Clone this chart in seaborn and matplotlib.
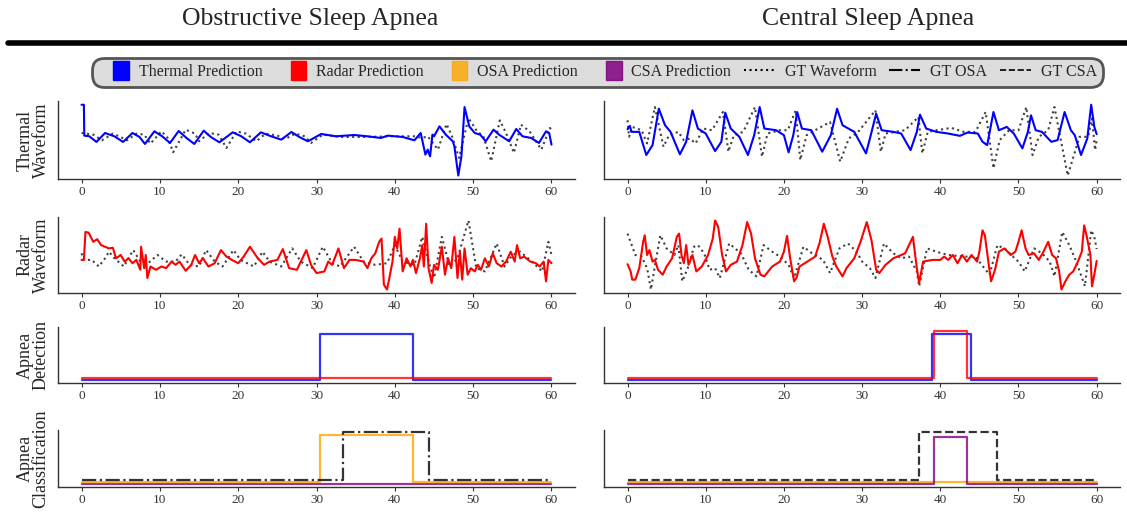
import numpy as np
import matplotlib
matplotlib.use('Agg')
import matplotlib.pyplot as plt
import seaborn as sns
from matplotlib.patches import Patch, Rectangle
from matplotlib.lines import Line2D
from matplotlib.legend_handler import HandlerPatch

# ---------------------------------------------------------------
# data (time in s, waveform in arbitrary units)
# ---------------------------------------------------------------

# OSA thermal waveform
osa_th_t = [0, 0.3, 0.35, 1.0, 1.9, 3.0, 4.2, 5.3, 6.5, 7.4, 8.1, 9.3, 10.3, 11.3, 12.4, 13.4,
            14.4, 15.6, 16.5, 17.6, 19.3, 20.4, 21.5, 22.9, 24.2, 25.5, 26.8, 27.8, 28.9, 30.6,
            32.5, 34.8, 36.5, 38.2, 39.1, 41.0, 42.5, 43.3, 43.9, 44.2, 44.4, 44.5, 44.8, 45.0,
            45.7, 46.5, 47.4, 47.6, 48.1, 48.5, 48.9, 49.5, 50.2, 50.9, 51.6, 52.6, 53.3, 54.6,
            55.5, 56.3, 57.4, 58.4, 59.3, 59.7, 60]
osa_th_v = [225, 225, 132, 130, 113, 140, 130, 113, 140, 128, 107, 145, 130, 110, 146, 125,
            107, 147, 128, 112, 142, 130, 112, 142, 130, 120, 143, 128, 115, 137,
            130, 134, 130, 125, 132, 128, 118, 140, 75, 90, 75, 70, 135, 130,
            160, 135, 115, 100, 12, 70, 218, 160, 140, 135, 115, 150, 135, 115,
            152, 130, 125, 110, 145, 140, 105]
osa_th_gt_t = [0, 1.5, 2.6, 4.0, 4.8, 5.8, 7.0, 8.0, 8.8, 10.2, 11.0, 11.7, 13.3, 14.5, 15.0,
               16.3, 17.5, 18.5, 19.8, 21.0, 22.3, 23.5, 25.0, 26.0, 27.3, 28.5, 29.3, 30.8,
               33, 36, 39.5, 42.5, 43.5, 44.2, 45.5, 46.6, 47.3, 48.2, 49.4, 50.5, 51.3, 52.3,
               53.4, 54.2, 55.2, 56.1, 57.2, 58.7, 59.8, 60]
osa_th_gt_v = [140, 135, 118, 138, 130, 118, 138, 135, 108, 145, 125, 82, 150, 138, 115,
               140, 135, 95, 145, 138, 115, 138, 132, 122, 138, 130, 110, 135,
               128, 128, 130, 130, 125, 130, 90, 167, 130, 65, 185, 145, 130, 55,
               178, 140, 80, 165, 145, 90, 155, 150]

# CSA thermal waveform
csa_th_t = [0, 0.3, 0.5, 1.5, 2.4, 3.2, 4.0, 4.8, 5.5, 6.7, 7.5, 8.3, 9.0, 10.0, 11.2, 12.0,
            12.5, 13.2, 14.3, 15.4, 16.2, 16.9, 17.5, 19.0, 20.0, 20.6, 21.2, 21.7, 22.3, 23.5,
            24.9, 26.0, 26.8, 27.5, 29.0, 30.5, 31.0, 31.8, 32.5, 34.0, 35.0, 36.2, 37.0, 37.4,
            38.2, 39.5, 41.0, 42.5, 43.5, 44.8, 45.4, 46.0, 46.8, 47.5, 48.5, 49.4, 50.5, 51.2,
            51.6, 52.2, 53.0, 54.2, 55.0, 55.9, 56.7, 57.2, 58.0, 58.8, 59.3, 59.7, 60]
csa_th_v = [148, 158, 140, 140, 70, 100, 210, 160, 140, 72, 110, 205, 150, 135, 82, 110,
            198, 150, 125, 70, 130, 215, 150, 145, 130, 78, 130, 200, 150, 145,
            80, 130, 210, 160, 140, 75, 120, 195, 145, 140, 135, 85, 140, 192,
            150, 140, 135, 128, 138, 135, 110, 100, 200, 145, 155, 135, 90, 140,
            190, 145, 140, 110, 115, 200, 145, 130, 70, 120, 222, 155, 133]
csa_th_gt_t = [0, 0.2, 0.6, 1.8, 2.5, 3.5, 4.6, 5.3, 6.5, 7.2, 8.0, 8.7, 9.7, 10.8, 12.2, 12.9,
               13.6, 14.8, 16.3, 17.2, 17.9, 19.5, 20.5, 21.5, 22.1, 22.9, 24.0, 25.9, 27.2,
               28.3, 29.5, 31.7, 32.4, 33.0, 35.5, 37.2, 37.7, 38.4, 39.5, 41.4, 43.0, 44.5,
               45.8, 46.8, 47.6, 48.8, 50.0, 51.0, 51.8, 52.6, 53.8, 54.6, 56.3, 57.8, 58.9,
               59.4, 59.8, 60]
csa_th_gt_v = [175, 125, 155, 145, 105, 215, 95, 130, 140, 115, 120, 105, 150, 145, 200, 80,
               130, 140, 215, 65, 135, 145, 145, 205, 55, 130, 145, 170, 50,
               120, 140, 205, 80, 135, 145, 185, 75, 140, 145, 152, 140, 140,
               200, 30, 115, 145, 145, 215, 70, 125, 145, 215, 8, 125, 125,
               180, 85, 115]

# OSA radar waveform
osa_rd_t = [0, 0.3, 0.5, 0.9, 1.5, 2.0, 2.5, 3.0, 3.5, 4.0, 4.4, 5.0, 5.5, 6.0, 6.5, 7.0, 7.5,
            7.6, 8.0, 8.2, 8.4, 8.8, 9.5, 10.2, 10.8, 11.5, 12.0, 12.5, 13.3, 14.0, 14.5, 15.0,
            15.5, 16.2, 17.0, 17.8, 18.5, 19.2, 20.0, 20.7, 21.5, 22.5, 23.3, 24.0, 25.0, 25.7,
            26.5, 27.5, 28.0, 28.7, 29.3, 30.0, 31.0, 31.5, 32.0, 32.8, 33.5, 34.2, 35.0, 36.0,
            36.5, 37.0, 37.5, 38.0, 38.3, 38.6, 39.0, 39.3, 39.7, 40.0, 40.3, 40.6, 41.0, 41.5,
            42.0, 42.3, 42.7, 43.2, 43.5, 43.7, 44.0, 44.3, 44.7, 45.0, 45.5, 46.0, 46.4, 46.8,
            47.2, 47.6, 48.0, 48.3, 48.6, 48.9, 49.3, 49.7, 50.2, 50.6, 51.0, 51.5, 52.0, 52.5,
            53.0, 53.6, 54.2, 54.8, 55.3, 55.6, 56.0, 56.5, 57.3, 58.0, 58.5, 59.0, 59.3, 59.6, 60]
osa_rd_v = [105, 105, 190, 188, 160, 168, 150, 145, 140, 142, 110, 120, 100, 110, 95, 105, 75,
            145, 80, 120, 50, 85, 75, 85, 80, 100, 90, 100, 72, 90, 120, 95,
            110, 85, 95, 135, 115, 105, 95, 115, 145, 110, 90, 100, 105, 138,
            80, 75, 100, 135, 90, 65, 70, 100, 90, 140, 80, 105, 105, 100,
            80, 110, 125, 160, 170, 30, 15, 50, 100, 175, 140, 200, 70, 110,
            85, 105, 65, 110, 150, 85, 215, 80, 35, 90, 75, 145, 60, 110,
            80, 175, 50, 130, 45, 140, 60, 80, 70, 90, 75, 110, 85, 125,
            95, 85, 100, 130, 100, 150, 110, 115, 100, 95, 85, 100, 40, 105, 95]
osa_rd_gt_t = [0, 0.3, 1.3, 2.2, 3.0, 3.5, 4.2, 5.4, 6.6, 7.5, 8.5, 9.7, 10.8, 12.0, 12.8, 13.8,
               15.0, 15.9, 17.0, 18.0, 19.4, 20.3, 22.0, 23.1, 24.0, 25.5, 26.9, 28.0, 29.5,
               30.8, 32.0, 33.0, 34.8, 36.0, 37.5, 39.0, 40.0, 41.0, 42.5, 43.5, 44.5, 45.0,
               46.0, 47.0, 48.0, 49.4, 50.4, 51.5, 53.0, 54.0, 55.0, 56.0, 57.5, 58.8, 59.6, 60]
osa_rd_gt_v = [125, 105, 105, 85, 110, 130, 110, 85, 135, 100, 95, 120, 100, 100, 122, 90,
               85, 135, 100, 85, 135, 105, 85, 130, 100, 85, 140, 100, 80,
               145, 95, 85, 145, 100, 90, 95, 150, 100, 90, 175, 85, 50,
               175, 85, 110, 225, 80, 70, 155, 85, 120, 130, 100, 70, 160, 120]

# CSA radar waveform
csa_rd_t = [0, 0.4, 0.6, 1.0, 1.5, 2.0, 2.2, 2.5, 2.8, 3.2, 3.5, 3.9, 4.5, 5.0, 5.7, 6.3, 6.6,
            6.9, 7.2, 7.5, 7.8, 8.3, 8.8, 9.5, 10.3, 10.9, 11.2, 11.6, 12.1, 12.6, 13.2, 14.0,
            14.7, 15.3, 15.8, 16.3, 17.0, 17.5, 18.5, 19.5, 20.0, 20.4, 20.8, 21.3, 21.6, 22.0,
            23.0, 24.0, 24.6, 25.1, 25.6, 26.2, 26.7, 27.1, 27.5, 28.0, 29.0, 29.8, 30.6, 31.2,
            31.8, 32.2, 33.0, 34.0, 35.5, 36.2, 36.5, 37.0, 37.3, 37.8, 39.0, 40.0, 40.5, 41.0,
            41.6, 42.2, 42.8, 43.4, 44.0, 44.7, 45.0, 45.4, 45.7, 46.2, 46.5, 47.0, 47.5, 48.2,
            49.0, 49.6, 50.0, 50.4, 50.9, 51.3, 52.0, 52.6, 53.2, 53.8, 54.3, 54.8, 55.2, 55.5,
            56.0, 56.5, 57.0, 57.6, 58.1, 58.4, 58.7, 59.2, 59.4, 59.7, 60]
csa_rd_v = [92, 70, 45, 45, 80, 160, 180, 120, 135, 100, 105, 75, 60, 85, 110, 175, 185,
            120, 95, 150, 90, 120, 70, 85, 120, 170, 225, 205, 120, 70, 90, 100,
            150, 220, 185, 110, 60, 55, 85, 100, 130, 178, 110, 40, 50, 85,
            100, 115, 160, 215, 175, 115, 85, 70, 55, 80, 110, 160, 220, 165,
            75, 65, 90, 110, 125, 160, 175, 80, 35, 100, 105, 105, 115, 105,
            120, 95, 120, 100, 120, 100, 130, 195, 180, 90, 40, 75, 130, 140,
            120, 130, 160, 195, 140, 120, 125, 105, 130, 160, 120, 110, 70, 15,
            40, 60, 70, 100, 130, 210, 180, 120, 25, 60, 102]
csa_rd_gt_t = [0, 1.0, 1.8, 2.5, 3.0, 3.6, 4.2, 5.0, 6.0, 6.5, 7.0, 7.7, 8.5, 9.0, 9.8, 10.5,
               11.2, 11.8, 13.0, 14.5, 15.5, 16.5, 17.4, 18.5, 19.5, 20.6, 21.3, 22.5, 23.6,
               25.0, 25.9, 27.1, 28.2, 29.3, 30.0, 31.0, 31.7, 32.8, 34.0, 35.0, 36.0, 37.0,
               37.3, 38.3, 39.5, 41.0, 43.0, 44.5, 45.3, 46.3, 47.3, 48.5, 49.5, 50.0, 50.8,
               52.0, 53.0, 54.0, 54.6, 55.6, 56.5, 57.3, 58.5, 59.3, 59.7, 60]
csa_rd_gt_v = [185, 120, 115, 80, 15, 100, 180, 140, 120, 150, 40, 80, 145, 150, 125, 75,
               80, 50, 155, 125, 75, 55, 150, 130, 115, 90, 50, 145, 125,
               105, 65, 140, 155, 130, 100, 80, 50, 155, 125, 110, 115, 70,
               25, 140, 130, 120, 115, 115, 90, 60, 150, 135, 110, 100, 70,
               140, 125, 100, 55, 190, 150, 105, 25, 195, 175, 138]

# detection / classification step signals (value holds until next time)
osa_det_t = [0, 30.4, 42.3, 60]
osa_det_thermal = [0, 1, 0, 0]
osa_det_radar = [0, 0, 0, 0]
csa_det_thermal_t = [0, 38.95, 43.95, 60]
csa_det_thermal = [0, 1, 0, 0]
csa_det_radar_t = [0, 39.15, 43.4, 60]
csa_det_radar = [0, 1, 0, 0]

osa_cls_t = [0, 30.4, 42.3, 60]
osa_cls_osa = [0, 1, 0, 0]
osa_cls_csa = [0, 0, 0, 0]
osa_gt_t = [0, 33.4, 44.4, 60]
osa_gt = [0, 1, 0, 0]

csa_cls_t = [0, 39.15, 43.4, 60]
csa_cls_csa = [0, 1, 0, 0]
csa_cls_osa = [0, 0, 0, 0]
csa_gt_t = [0, 37.3, 47.3, 60]
csa_gt = [0, 1, 0, 0]

titles = ['Obstructive Sleep Apnea', 'Central Sleep Apnea']
row_labels = ['Thermal\nWaveform', 'Radar\nWaveform', 'Apnea\nDetection', 'Apnea\nClassification']

# ---------------------------------------------------------------
sns.set_style('white')
plt.rcParams['font.family'] = ['Liberation Serif', 'DejaVu Serif']

fig = plt.figure(figsize=(11.27, 5.19), dpi=100)

rows = [(0.655, 0.150), (0.4355, 0.1464), (0.262, 0.108), (0.0617, 0.110)]
cols = [(0.0515, 0.4587), (0.536, 0.4579)]

axes = [[fig.add_axes([c[0], r[0], c[1], r[1]]) for c in cols] for r in rows]

BLUE, RED, ORANGE, PURPLE = '#0000ff', '#ff0000', '#ffa500', '#800080'


def line(ax, x, y, **kw):
    sns.lineplot(x=x, y=y, ax=ax, estimator=None, sort=False, **kw)


# waveforms
line(axes[0][0], osa_th_gt_t, osa_th_gt_v, color='black', linestyle=':', lw=1.5, alpha=0.75)
line(axes[0][0], osa_th_t, osa_th_v, color=BLUE, lw=1.5)
line(axes[0][1], csa_th_gt_t, csa_th_gt_v, color='black', linestyle=':', lw=1.5, alpha=0.75)
line(axes[0][1], csa_th_t, csa_th_v, color=BLUE, lw=1.5)
line(axes[1][0], osa_rd_gt_t, osa_rd_gt_v, color='black', linestyle=':', lw=1.5, alpha=0.75)
line(axes[1][0], osa_rd_t, osa_rd_v, color=RED, lw=1.5)
line(axes[1][1], csa_rd_gt_t, csa_rd_gt_v, color='black', linestyle=':', lw=1.5, alpha=0.75)
line(axes[1][1], csa_rd_t, csa_rd_v, color=RED, lw=1.5)

# detection
step = dict(drawstyle='steps-post', lw=1.6, alpha=0.8)
line(axes[2][0], osa_det_t, osa_det_thermal, color=BLUE, **step)
line(axes[2][0], osa_det_t, np.array(osa_det_radar) + 0.05, color=RED, **step)
line(axes[2][1], csa_det_thermal_t, csa_det_thermal, color=BLUE, **step)
line(axes[2][1], csa_det_radar_t, np.array(csa_det_radar) + 0.05, color=RED, **step)

# classification
line(axes[3][0], osa_cls_t, osa_cls_csa, color=PURPLE, **step)
line(axes[3][0], osa_cls_t, np.array(osa_cls_osa) + 0.04, color=ORANGE, **step)
line(axes[3][0], osa_gt_t, np.array(osa_gt) + 0.09, color='black', linestyle='-.',
     drawstyle='steps-post', lw=1.6, alpha=0.8)
line(axes[3][1], csa_cls_t, np.array(csa_cls_osa) + 0.04, color=ORANGE, **step)
line(axes[3][1], csa_cls_t, csa_cls_csa, color=PURPLE, **step)
line(axes[3][1], csa_gt_t, np.array(csa_gt) + 0.09, color='black', linestyle='--',
     drawstyle='steps-post', lw=1.6, alpha=0.8)

for i, row in enumerate(axes):
    for j, ax in enumerate(row):
        ax.set_xlim(-3, 63)
        ax.set_xticks([0, 10, 20, 30, 40, 50, 60])
        ax.set_yticks([])
        ax.set_xlabel('')
        ax.set_ylabel('')
        if i >= 2:
            ax.set_ylim(-0.06, 1.14)
        sns.despine(ax=ax)
        for s in ['left', 'bottom']:
            ax.spines[s].set_color('#333333')
            ax.spines[s].set_linewidth(1.0)
        ax.tick_params(axis='x', labelsize=9.5, length=3, width=0.8, colors='#333333',
                       bottom=True, pad=2)
        if j == 0:
            ax.set_ylabel(row_labels[i], fontsize=13, labelpad=6, linespacing=0.95)

fig.text(0.275, 0.963, titles[0], ha='center', va='center', fontsize=18.5)
fig.text(0.770, 0.963, titles[1], ha='center', va='center', fontsize=18.5)
fig.add_artist(Line2D([0.007, 1.0], [0.917, 0.917], color='black', lw=4,
                      transform=fig.transFigure))


def narrow_patch(legend, orig_handle, xdescent, ydescent, width, height, fontsize):
    pw = width * 0.5
    return Rectangle((-xdescent + width - pw, -ydescent - height * 0.2), pw, height * 1.4)


handles = [Patch(color=BLUE, label='Thermal Prediction'),
           Patch(color=RED, label='Radar Prediction'),
           Patch(color=ORANGE, alpha=0.8, label='OSA Prediction'),
           Patch(color=PURPLE, alpha=0.85, label='CSA Prediction'),
           Line2D([], [], color='black', linestyle=':', lw=1.5, label='GT Waveform'),
           Line2D([], [], color='black', linestyle='-.', lw=1.5, label='GT OSA'),
           Line2D([], [], color='black', linestyle='--', lw=1.2, label='GT CSA')]
leg = fig.legend(handles=handles, loc='center', bbox_to_anchor=(0.530, 0.861), ncol=7,
                 fontsize=11.5, frameon=True, fancybox=True, facecolor='#dcdcdc',
                 edgecolor='#555555', framealpha=1, handlelength=1.95, handleheight=0.9,
                 handletextpad=0.6, columnspacing=0.8, borderpad=0.25,
                 handler_map={Patch: HandlerPatch(patch_func=narrow_patch)})
leg.get_frame().set_linewidth(2)
leg.get_frame().set_boxstyle('round', pad=0.15, rounding_size=0.8)

fig.savefig('out.png', dpi=100)
